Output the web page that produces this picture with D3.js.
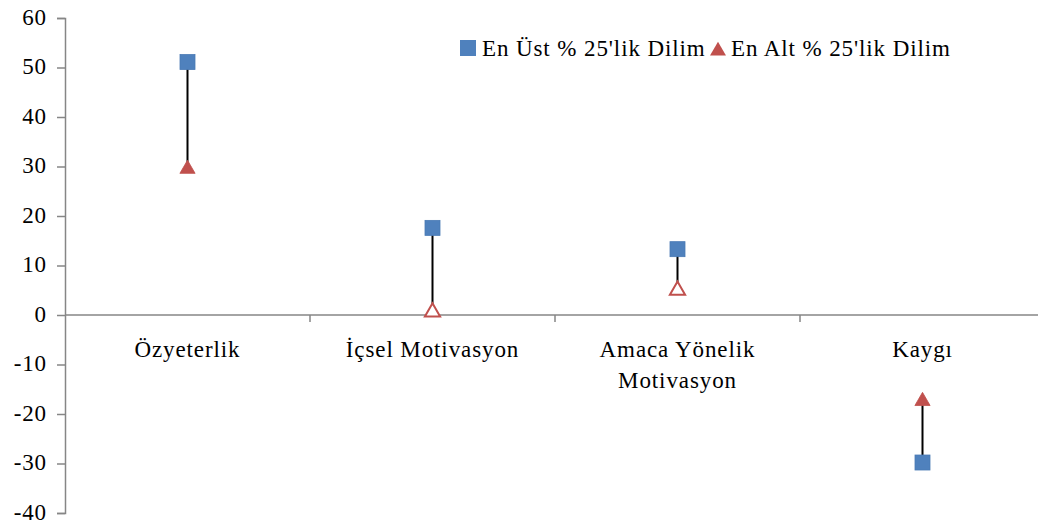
<!DOCTYPE html>
<html>
<head>
<meta charset="utf-8">
<script src="https://cdn.jsdelivr.net/npm/d3@7"></script>
<style>
  html, body { margin: 0; padding: 0; background: #fff; }
  svg text { font-family: "Liberation Serif", "Times New Roman", serif; fill: #000; letter-spacing: 0.9px; }
</style>
</head>
<body>
<svg id="chart" width="1038" height="525"></svg>
<script>
// Kategoriler ve dilim değerleri
const categories = ["Özyeterlik", "İçsel Motivasyon", "Amaca Yönelik Motivasyon", "Kaygı"];
const categoryLines = [["Özyeterlik"], ["İçsel Motivasyon"], ["Amaca Yönelik", "Motivasyon"], ["Kaygı"]];
const topQuartile = [51.1, 17.6, 13.3, -29.8];     // En Üst % 25'lik Dilim
const bottomQuartile = [29.7, 0.8, 5.2, -17.2];    // En Alt % 25'lik Dilim
const hollowBottom = [false, true, true, false];
const yTicks = [-40, -30, -20, -10, 0, 10, 20, 30, 40, 50, 60];
const seriesNames = ["En Üst % 25'lik Dilim", "En Alt % 25'lik Dilim"];

const blue = "#4F81BD", red = "#C0504D", axisGrey = "#868686";
const fontSize = "23px";
const svg = d3.select("#chart");
const plotLeft = 65, plotRight = 1045, plotTop = 18, plotBottom = 513;

const x = d3.scaleBand().domain(categories).range([plotLeft, plotRight]);
const y = d3.scaleLinear().domain([-40, 60]).range([plotBottom, plotTop]);

// Y ekseni
const yAxis = d3.axisLeft(y).tickValues(yTicks).tickSize(8).tickPadding(10).tickFormat(d3.format("d"));
const yg = svg.append("g").attr("transform", `translate(${plotLeft},0)`).call(yAxis);
yg.select(".domain").attr("stroke", axisGrey).attr("stroke-width", 1.5);
yg.selectAll(".tick line").attr("stroke", axisGrey).attr("stroke-width", 1.5);
yg.selectAll(".tick text").attr("fill", "#000").attr("dy", "0.28em")
  .style("font-size", fontSize).style("font-family", "'Liberation Serif', serif")
  .text(d => d < 0 ? "-" + Math.abs(d) : String(d));

// Kategori ekseni (sıfır çizgisi)
const xg = svg.append("g").attr("transform", `translate(0,${y(0)})`);
xg.append("line").attr("x1", plotLeft).attr("x2", plotRight).attr("stroke", axisGrey).attr("stroke-width", 1.5);
const boundaries = categories.slice(1).map(c => x(c));
xg.selectAll(".ctick").data(boundaries).enter().append("line")
  .attr("x1", d => d).attr("x2", d => d).attr("y1", 0).attr("y2", 7)
  .attr("stroke", axisGrey).attr("stroke-width", 1.5);
categories.forEach((c, i) => {
  const t = xg.append("text").attr("text-anchor", "middle").style("font-size", fontSize);
  categoryLines[i].forEach((ln, j) => {
    t.append("tspan").attr("x", x(c) + x.bandwidth() / 2).attr("y", 42 + j * 31).text(ln);
  });
});

// Yüksek-düşük çizgileri
const cx = c => x(c) + x.bandwidth() / 2;
svg.selectAll(".hl").data(categories).enter().append("line")
  .attr("x1", cx).attr("x2", cx)
  .attr("y1", (c, i) => y(topQuartile[i])).attr("y2", (c, i) => y(bottomQuartile[i]))
  .attr("stroke", "#000").attr("stroke-width", 2);

// Alt dilim: üçgenler
const tri = d3.symbol().type(d3.symbolTriangle).size(100);
svg.selectAll(".tri").data(categories).enter().append("path")
  .attr("d", tri)
  .attr("transform", (c, i) => `translate(${cx(c)},${y(bottomQuartile[i]) + 1})`)
  .attr("fill", (c, i) => hollowBottom[i] ? "#fff" : red)
  .attr("stroke", red).attr("stroke-width", (c, i) => hollowBottom[i] ? 2 : 0.8);

// Üst dilim: kareler
const sq = 15;
svg.selectAll(".sq").data(categories).enter().append("rect")
  .attr("x", c => cx(c) - sq / 2)
  .attr("y", (c, i) => y(topQuartile[i]) - sq / 2)
  .attr("width", sq).attr("height", sq)
  .attr("fill", blue).attr("stroke", "#4A7AB5").attr("stroke-width", 0.8);

// Gösterge
const lg = svg.append("g").attr("transform", "translate(460,48)");
lg.append("rect").attr("x", 0).attr("y", -8).attr("width", 16).attr("height", 16).attr("fill", blue);
lg.append("text").attr("x", 22).attr("y", 8).style("font-size", fontSize).text(seriesNames[0]);
lg.append("path").attr("d", d3.symbol().type(d3.symbolTriangle).size(110))
  .attr("transform", "translate(258,3)").attr("fill", red);
lg.append("text").attr("x", 271).attr("y", 8).style("font-size", fontSize).text(seriesNames[1]);
</script>
</body>
</html>
